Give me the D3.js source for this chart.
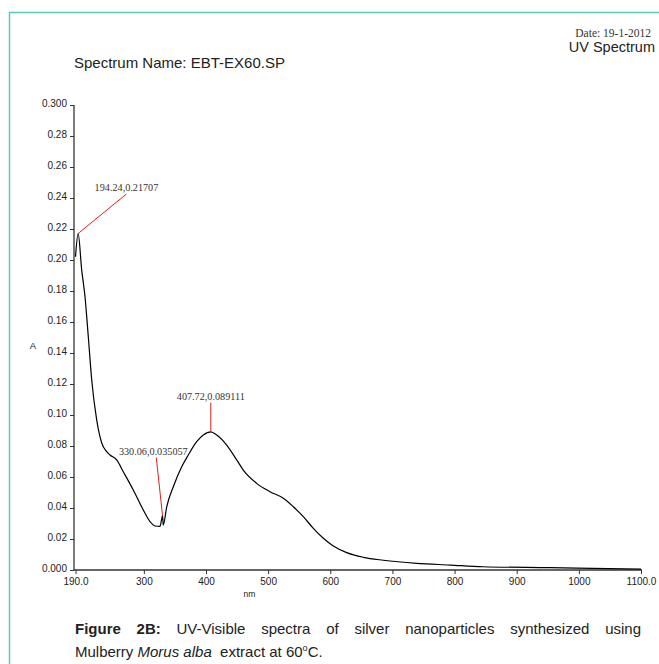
<!DOCTYPE html>
<html>
<head>
<meta charset="utf-8">
<script src="https://cdn.jsdelivr.net/npm/d3@7"></script>
<style>
  body { margin: 0; background: #fff; }
  svg { display: block; }
</style>
</head>
<body>
<div id="chart"></div>
<script>
// spectrum (nm, absorbance)
const wavelength = [190, 194.24, 200, 205.3, 210.6, 216.1, 224.1, 232.2, 240.2, 245.5, 256.3, 266.9, 283.0, 299.1, 309.9, 317.9, 326.0, 328.7, 330.06, 331.2, 336.8, 347.4, 360.9, 371.5, 385.0, 395.7, 407.72, 417.2, 433.3, 449.4, 460.0, 481.6, 503.0, 524.4, 540.5, 556.6, 572.7, 588.8, 604.9, 626.4, 653.1, 685.3, 739.1, 792.7, 845.8, 953.6, 1100];
const absorbance = [0.2021, 0.21707, 0.1935, 0.1763, 0.1505, 0.1226, 0.0968, 0.0819, 0.0763, 0.0742, 0.0710, 0.0634, 0.0516, 0.0387, 0.0312, 0.0284, 0.0282, 0.0330, 0.035057, 0.0290, 0.0408, 0.0537, 0.0666, 0.0742, 0.0828, 0.0871, 0.089111, 0.0871, 0.0806, 0.0710, 0.0645, 0.0559, 0.0505, 0.0463, 0.0408, 0.0344, 0.0269, 0.0205, 0.0155, 0.0112, 0.0082, 0.0063, 0.0043, 0.0032, 0.0021, 0.0015, 0.0006];

const yTicks = [0, 0.02, 0.04, 0.06, 0.08, 0.10, 0.12, 0.14, 0.16, 0.18, 0.20, 0.22, 0.24, 0.26, 0.28, 0.30];
const yTickLabels = ["0.000", "0.02", "0.04", "0.06", "0.08", "0.10", "0.12", "0.14", "0.16", "0.18", "0.20", "0.22", "0.24", "0.26", "0.28", "0.300"];
const xTicks = [190, 300, 400, 500, 600, 700, 800, 900, 1000, 1100];
const xTickLabels = ["190.0", "300", "400", "500", "600", "700", "800", "900", "1000", "1100.0"];

// peak labels: point on curve, where the label sits (data units)
const peakNm = [194.24, 330.06, 407.72];
const peakA = [0.21707, 0.035057, 0.089111];
const peakText = ["194.24,0.21707", "330.06,0.035057", "407.72,0.089111"];
const labelNm = [272, 320, 407.72];
const labelA = [0.2426, 0.0725, 0.108];

const W = 659, H = 664;
const svg = d3.select('#chart').append('svg').attr('width', W).attr('height', H);

// teal frame
svg.append('path').attr('d', `M9.5,${H} V12.5 H${W}`)
  .attr('fill', 'none').attr('stroke', '#5cc8bd').attr('stroke-width', 1.5);

const x = d3.scaleLinear().domain([190, 1100]).range([75.5, 641]);
const y = d3.scaleLinear().domain([0, 0.3]).range([570, 105]);
const axisX0 = 74;

svg.append('text').attr('x', 651).attr('y', 37).attr('text-anchor', 'end')
  .attr('font-family', 'Liberation Serif').attr('font-size', 11.5).attr('fill', '#333')
  .text('Date: 19-1-2012');
svg.append('text').attr('x', 655).attr('y', 52).attr('text-anchor', 'end')
  .attr('font-family', 'Liberation Sans').attr('font-size', 14.5).attr('fill', '#222')
  .text('UV Spectrum');
svg.append('text').attr('x', 74).attr('y', 68)
  .attr('font-family', 'Liberation Sans').attr('font-size', 15).attr('fill', '#222')
  .text('Spectrum Name: EBT-EX60.SP');

// axes
const yAxis = svg.append('g').attr('transform', `translate(${axisX0},0)`)
  .call(d3.axisLeft(y).tickValues(yTicks).tickSize(4).tickPadding(3)
    .tickFormat((d, i) => yTickLabels[i]));
const xAxis = svg.append('g').attr('transform', `translate(0,${y(0)})`)
  .call(d3.axisBottom(x).tickValues(xTicks).tickSize(4).tickPadding(4)
    .tickFormat((d, i) => xTickLabels[i]));
[yAxis, xAxis].forEach(g => {
  g.select('.domain').remove();
  g.selectAll('line').attr('stroke', '#333');
  g.selectAll('text').attr('font-family', 'Liberation Sans').attr('font-size', 10).attr('fill', '#222');
});
yAxis.selectAll('text').attr('dy', '0.1em');
svg.append('line').attr('x1', axisX0).attr('x2', axisX0).attr('y1', y(0.3)).attr('y2', y(0))
  .attr('stroke', '#333').attr('stroke-width', 1.3);
svg.append('line').attr('x1', axisX0).attr('x2', x(1100) + 1).attr('y1', y(0)).attr('y2', y(0))
  .attr('stroke', '#333').attr('stroke-width', 1.3);

svg.append('text').attr('x', 33).attr('y', 349).attr('text-anchor', 'middle')
  .attr('font-family', 'Liberation Sans').attr('font-size', 9.5).attr('fill', '#222').text('A');
svg.append('text').attr('x', x(470)).attr('y', 597).attr('text-anchor', 'middle')
  .attr('font-family', 'Liberation Sans').attr('font-size', 8.5).attr('fill', '#222').text('nm');

// spectrum
const pts = wavelength.map((w, i) => [w, absorbance[i]]);
svg.append('path').datum(pts)
  .attr('fill', 'none').attr('stroke', '#000').attr('stroke-width', 1.2)
  .attr('d', d3.line().x(d => x(d[0])).y(d => y(d[1])).curve(d3.curveMonotoneX));

// peak annotations
peakNm.forEach((p, i) => {
  svg.append('line')
    .attr('x1', x(p)).attr('y1', y(peakA[i]))
    .attr('x2', x(labelNm[i])).attr('y2', y(labelA[i]))
    .attr('stroke', '#e51c1c').attr('stroke-width', 1);
  svg.append('text').attr('x', x(labelNm[i]) - (i === 1 ? 3 : 0)).attr('y', y(labelA[i]) - 3)
    .attr('text-anchor', 'middle')
    .attr('font-family', 'Liberation Serif').attr('font-size', 10.2).attr('fill', '#333')
    .text(peakText[i]);
});

// caption, first line justified
const capWords = ['Figure', '2B:', 'UV-Visible', 'spectra', 'of', 'silver', 'nanoparticles', 'synthesized', 'using'];
const capBold = [true, true, false, false, false, false, false, false, false];
const capL = 75, capR = 641, capFs = 15;
const words = capWords.map((w, i) => svg.append('text').attr('y', 634)
  .attr('font-family', 'Liberation Sans').attr('font-size', capFs)
  .attr('font-weight', capBold[i] ? 'bold' : 'normal').attr('fill', '#222').text(w));
const widths = words.map(t => t.node().getComputedTextLength());
const gap = (capR - capL - d3.sum(widths)) / (words.length - 1);
let cx = capL;
words.forEach((t, i) => { t.attr('x', cx); cx += widths[i] + gap; });

const line2 = svg.append('text').attr('x', capL).attr('y', 657)
  .attr('font-family', 'Liberation Sans').attr('font-size', capFs).attr('fill', '#222');
line2.append('tspan').text('Mulberry ');
line2.append('tspan').attr('font-style', 'italic').text('Morus alba');
line2.append('tspan').text('\u00a0 extract at 60');
line2.append('tspan').attr('font-size', 9).attr('dy', -6).text('o');
line2.append('tspan').attr('dy', 6).text('C.');
</script>
</body>
</html>
